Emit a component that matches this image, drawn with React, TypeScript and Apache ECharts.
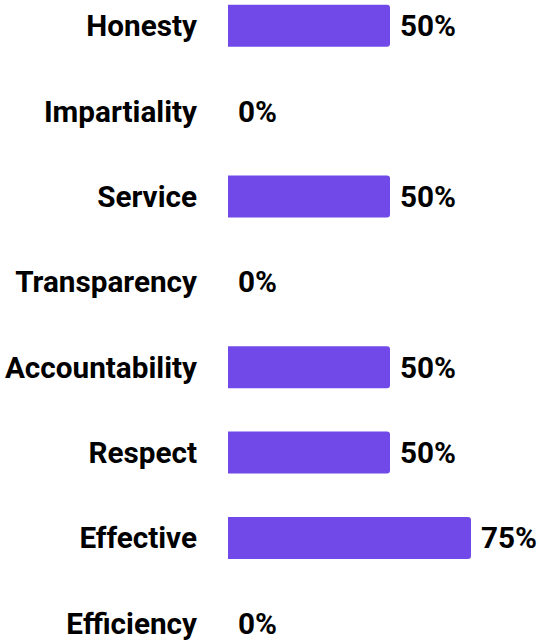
import React, { useEffect, useRef } from "react";
import * as echarts from "echarts";

const categories = [
  "Honesty",
  "Impartiality",
  "Service",
  "Transparency",
  "Accountability",
  "Respect",
  "Effective",
  "Efficiency",
];
const values = [50, 0, 50, 0, 50, 50, 75, 0];

export default function App() {
  const ref = useRef<HTMLDivElement>(null);
  useEffect(() => {
    document.body.style.overflow = "hidden";
    document.documentElement.style.overflow = "hidden";
    if (!ref.current) return;
    const chart = echarts.init(ref.current, undefined, { renderer: "svg" });
    chart.setOption({
      animation: false,
      grid: { left: 228, top: 0, width: 324, height: 683, containLabel: false },
      xAxis: {
        type: "value",
        min: 0,
        max: 100,
        show: false,
      },
      yAxis: {
        type: "category",
        data: categories,
        inverse: true,
        axisLine: { show: false },
        axisTick: { show: false },
        splitLine: { show: false },
        axisLabel: {
          margin: 31,
          color: "#000",
          fontFamily: "Roboto",
          fontWeight: "bold",
          fontSize: 29.7,
        },
      },
      series: [
        {
          type: "bar",
          data: values,
          barWidth: 42,
          itemStyle: { color: "#7149E9", borderRadius: [0, 3, 3, 0] },
          label: {
            show: true,
            position: "right",
            distance: 10,
            formatter: "{c}%",
            color: "#000",
            fontFamily: "Roboto",
            fontWeight: "bold",
            fontSize: 29.7,
          },
        },
      ],
    });
    return () => chart.dispose();
  }, []);
  return (
    <div
      ref={ref}
      style={{ position: "absolute", left: 0, top: -17, width: 560, height: 683 }}
    />
  );
}
